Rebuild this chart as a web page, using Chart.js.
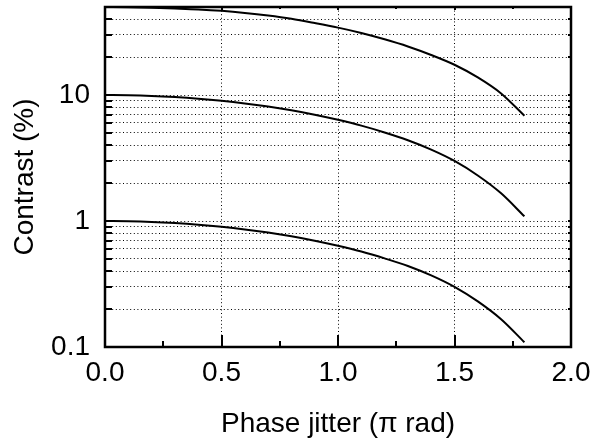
<!DOCTYPE html>
<html>
<head>
<meta charset="utf-8">
<script src="https://cdn.jsdelivr.net/npm/chart.js@4"></script>
<style>
  body { margin: 0; background: #fff; }
  #wrap { width: 591px; height: 441px; }
</style>
</head>
<body>
<div id="wrap"><canvas id="c" width="591" height="441"></canvas></div>
<script>
// phase jitter in units of pi rad
const jitter = [0, 0.1, 0.2, 0.3, 0.4, 0.5, 0.6, 0.7, 0.8, 0.9,
                1.0, 1.1, 1.2, 1.3, 1.4, 1.5, 1.6, 1.7, 1.8];
// contrast (%)
const contrastHigh = [50, 49.8, 49.3, 48.6, 47.8, 46.6, 44.9, 42.8, 40.3, 37.3,
                      34.3, 31.1, 27.7, 24.3, 20.8, 17.4, 13.8, 10.3, 6.85];
const contrastMid = [10, 9.96, 9.84, 9.63, 9.35, 9.0, 8.58, 8.1, 7.57, 6.98,
                     6.36, 5.72, 5.05, 4.38, 3.69, 3.0, 2.30, 1.66, 1.09];
const contrastLow = [1.0, 0.996, 0.984, 0.963, 0.935, 0.90, 0.858, 0.81, 0.757, 0.698,
                     0.636, 0.572, 0.505, 0.44, 0.37, 0.30, 0.230, 0.166, 0.109];

const xTicks = [0, 0.5, 1.0, 1.5, 2.0];
const xMinorTicks = [0.25, 0.75, 1.25, 1.75];
const yTicks = [0.1, 0.2, 0.3, 0.4, 0.5, 0.6, 0.7, 0.8, 0.9,
                1, 2, 3, 4, 5, 6, 7, 8, 9,
                10, 20, 30, 40, 50];
const yLabels = [0.1, 1, 10];

const fontFamily = '"Liberation Sans", Arial, sans-serif';

function series(values) {
    return values.map((v, i) => ({x: jitter[i], y: v}));
}

function lineSet(values) {
    return {
        data: series(values),
        borderColor: '#000',
        borderWidth: 2,
        pointRadius: 0,
        cubicInterpolationMode: 'monotone',
        fill: false
    };
}

// frame plus inward ticks, positioned through the chart scales
const framePlugin = {
    id: 'frame',
    afterDraw(chart) {
        const ctx = chart.ctx;
        const area = chart.chartArea;
        const xs = chart.scales.x;
        const ys = chart.scales.y;
        ctx.save();
        ctx.strokeStyle = '#000';
        ctx.lineWidth = 2;
        ctx.beginPath();
        yTicks.forEach(v => {
            if (v === yTicks[0] || v === yTicks[yTicks.length - 1]) return;
            const py = Math.round(ys.getPixelForValue(v));
            ctx.moveTo(area.left, py);
            ctx.lineTo(area.left + 7, py);
            ctx.moveTo(area.right, py);
            ctx.lineTo(area.right - 3, py);
        });
        xTicks.slice(1, -1).forEach(v => {
            const px = Math.round(xs.getPixelForValue(v));
            ctx.moveTo(px, area.bottom);
            ctx.lineTo(px, area.bottom - 12);
            ctx.moveTo(px, area.top);
            ctx.lineTo(px, area.top + 3);
        });
        xMinorTicks.forEach(v => {
            const px = Math.round(xs.getPixelForValue(v));
            ctx.moveTo(px, area.bottom);
            ctx.lineTo(px, area.bottom - 6);
            ctx.moveTo(px, area.top);
            ctx.lineTo(px, area.top + 2);
        });
        ctx.stroke();
        ctx.lineWidth = 2.5;
        ctx.strokeRect(area.left, area.top, area.right - area.left, area.bottom - area.top);
        ctx.restore();
    }
};

new Chart(document.getElementById('c'), {
    type: 'line',
    data: {
        datasets: [lineSet(contrastHigh), lineSet(contrastMid), lineSet(contrastLow)]
    },
    options: {
        responsive: false,
        animation: false,
        layout: {padding: {top: 7, right: 20, left: 0, bottom: 0}},
        plugins: {legend: {display: false}, tooltip: {enabled: false}},
        scales: {
            x: {
                type: 'linear',
                min: 0,
                max: 2,
                afterBuildTicks: (scale) => { scale.ticks = xTicks.map(v => ({value: v})); },
                afterFit: (scale) => {
                    scale.height = 94;
                    scale.paddingLeft = 0;
                    scale.paddingRight = 0;
                },
                ticks: {
                    color: '#000',
                    padding: 9,
                    autoSkip: false,
                    maxRotation: 0,
                    font: {family: fontFamily, size: 28},
                    callback: (v) => Number(v).toFixed(1)
                },
                grid: {color: '#000', lineWidth: 1, drawTicks: false},
                border: {display: false, dash: [1, 2.6]},
                title: {
                    display: true,
                    text: 'Phase jitter (\u03c0 rad)',
                    color: '#000',
                    font: {family: fontFamily, size: 28},
                    padding: {top: 0, bottom: 0}
                }
            },
            y: {
                type: 'logarithmic',
                min: 0.1,
                max: 50,
                afterBuildTicks: (scale) => { scale.ticks = yTicks.map(v => ({value: v})); },
                afterFit: (scale) => {
                    scale.width = 105;
                    scale.paddingTop = 0;
                    scale.paddingBottom = 0;
                },
                ticks: {
                    color: '#000',
                    padding: 15,
                    autoSkip: false,
                    font: {family: fontFamily, size: 28},
                    callback: (v) => yLabels.includes(v) ? String(v) : ''
                },
                grid: {color: '#000', lineWidth: 1, drawTicks: false},
                border: {display: false, dash: [1, 2.6]},
                title: {
                    display: true,
                    text: 'Contrast (%)',
                    color: '#000',
                    font: {family: fontFamily, size: 28},
                    padding: {top: 8, bottom: 0}
                }
            }
        }
    },
    plugins: [framePlugin]
});
</script>
</body>
</html>
